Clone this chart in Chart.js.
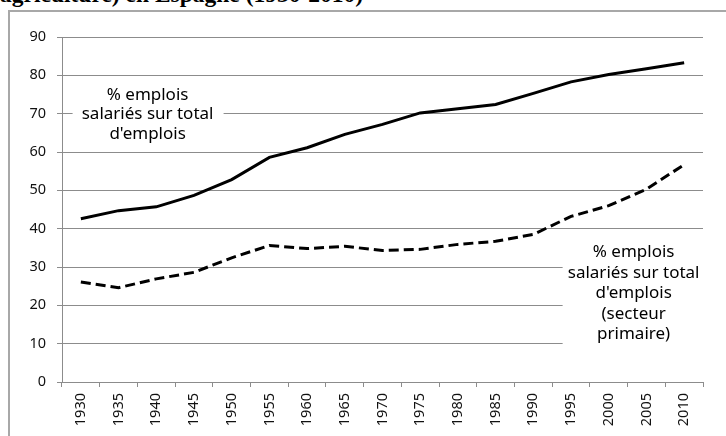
<!DOCTYPE html>
<html>
<head>
<meta charset="utf-8">
<script src="https://cdn.jsdelivr.net/npm/chart.js@4"></script>
<style>
  html, body { margin: 0; padding: 0; background: #fff; overflow: hidden; }
  #wrap { position: relative; width: 726px; height: 436px; overflow: hidden; }
  #frame { position: absolute; left: 8px; top: 10px; width: 900px; height: 600px;
           border: 2px solid #a8a8a8; box-sizing: border-box; }
  #title { position: absolute; left: 0px; top: -17px; white-space: nowrap;
           font-family: "Liberation Serif", serif; font-weight: bold; font-size: 23.5px;
           line-height: 23px; color: #000; }
  canvas { position: absolute; left: 0; top: 0; }
</style>
</head>
<body>
<div id="wrap">
  <div id="frame"></div>
  <div id="title">agriculture) en Espagne (1930-2010)</div>
  <canvas id="c" width="726" height="436"></canvas>
</div>
<script>
const categories = ["1930","1935","1940","1945","1950","1955","1960","1965","1970","1975","1980","1985","1990","1995","2000","2005","2010"];
const totalEmployees = [42.6,44.7,45.7,48.7,52.8,58.6,61.1,64.6,67.2,70.2,71.3,72.4,75.3,78.3,80.2,81.7,83.3];
const primaryEmployees = [26.1,24.6,26.9,28.6,32.4,35.6,34.8,35.4,34.3,34.6,35.9,36.7,38.5,43.2,46.0,50.3,56.7];
const yTicks = [0,10,20,30,40,50,60,70,80,90];
const labelTotal = ["% emplois", "salariés sur total", "d'emplois"];
const labelPrimary = ["% emplois", "salariés sur total", "d'emplois", "(secteur", "primaire)"];

const tickFont = { family: "Noto Sans", size: 14.5 };
const annotFont = '17px "Noto Sans"';

const annotations = {
  id: 'annotations',
  beforeDatasetsDraw(chart) {
    const { ctx, scales: { x, y }, chartArea } = chart;
    const drawLabel = (lines, xi, yv, lh, box) => {
      const cx = x.getPixelForValue(xi);
      const cy = y.getPixelForValue(yv);
      const n = lines.length;
      ctx.save();
      ctx.fillStyle = '#fff';
      const x0 = cx - box.left, x1 = Math.min(cx + box.right, chartArea.right);
      const y0 = cy - lh * n / 2 - box.pad, y1 = cy + lh * n / 2 + box.pad;
      ctx.fillRect(x0, y0, x1 - x0, y1 - y0);
      ctx.fillStyle = '#000';
      ctx.font = annotFont;
      ctx.textAlign = 'center';
      ctx.textBaseline = 'middle';
      lines.forEach((t, i) => {
        ctx.fillText(t, cx, cy + (i - (n - 1) / 2) * lh);
      });
      ctx.restore();
    };
    drawLabel(labelTotal, 1.77, 69.8, 19.5, { left: 75, right: 76, pad: 0 });
    drawLabel(labelPrimary, 14.66, 23.1, 20.5, { left: 71, right: 80, pad: 4 });
  }
};

new Chart(document.getElementById('c'), {
  type: 'line',
  data: {
    labels: categories,
    datasets: [
      { data: totalEmployees, borderColor: '#000', borderWidth: 3, pointRadius: 0, tension: 0, fill: false },
      { data: primaryEmployees, borderColor: '#000', borderWidth: 3, borderDash: [10, 5], pointRadius: 0, tension: 0, fill: false }
    ]
  },
  options: {
    responsive: false,
    devicePixelRatio: 1,
    animation: false,
    layout: { padding: { top: 37, right: 23, left: 0, bottom: 0 } },
    plugins: { legend: { display: false }, tooltip: { enabled: false }, title: { display: false } },
    scales: {
      x: {
        type: 'category',
        offset: true,
        grid: { offset: true, drawOnChartArea: false, drawTicks: true, tickLength: 5, color: '#8c8c8c' },
        border: { display: true, color: '#8c8c8c', width: 1 },
        ticks: { minRotation: 90, maxRotation: 90, autoSkip: false, padding: 6, color: '#111', font: tickFont },
        afterFit(s) { s.height = 54; }
      },
      y: {
        min: 0, max: 90,
        afterBuildTicks(s) { s.ticks = yTicks.map(v => ({ value: v })); },
        grid: { color: '#8c8c8c', drawTicks: true, tickLength: 5 },
        border: { display: true, color: '#8c8c8c', width: 1 },
        ticks: { padding: 11, color: '#111', font: tickFont },
        afterFit(s) { s.width = 62; }
      }
    }
  },
  plugins: [annotations]
});
</script>
</body>
</html>
